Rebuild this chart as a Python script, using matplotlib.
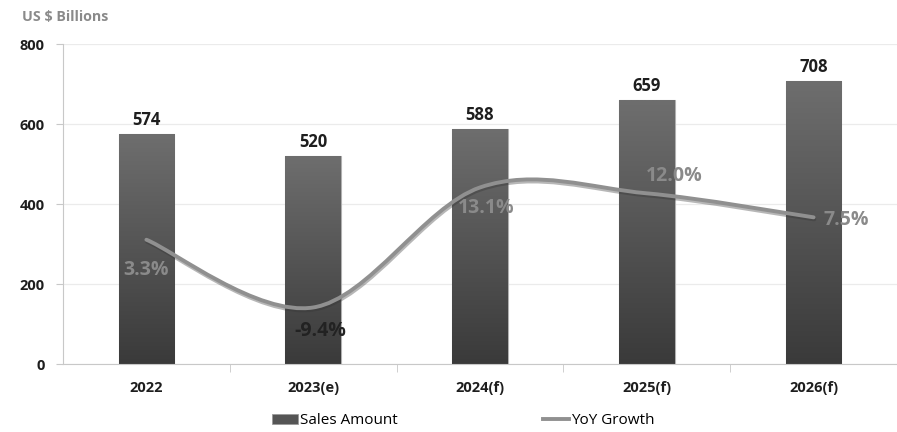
import numpy as np
import matplotlib
matplotlib.use("Agg")
import matplotlib.pyplot as plt
from matplotlib.path import Path
from matplotlib.patches import PathPatch, Patch
from matplotlib.lines import Line2D
import matplotlib.patheffects as pe

plt.rcParams['font.family'] = ['Open Sans', 'DejaVu Sans']

years = ["2022", "2023(e)", "2024(f)", "2025(f)", "2026(f)"]
sales = [574, 520, 588, 659, 708]
growth = [3.3, -9.4, 13.1, 12.0, 7.5]
growth_labels = ["3.3%", "-9.4%", "13.1%", "12.0%", "7.5%"]

W, H = 897, 432
fig = plt.figure(figsize=(W / 100, H / 100), dpi=100)
ax = fig.add_axes([63 / W, 68 / H, 834 / W, 320 / H])

x = np.arange(len(years))
bars = ax.bar(x, sales, width=0.333, color="#555555", edgecolor="#b0b0b0", linewidth=0.8, zorder=2)

# vertical gradient inside each bar
grad = np.linspace(0, 1, 256).reshape(-1, 1)
cmap = matplotlib.colors.LinearSegmentedColormap.from_list("g", ["#3a3a3a", "#6e6e6e"])
for b in bars:
    x0, y0 = b.get_x(), b.get_y()
    im = ax.imshow(grad, cmap=cmap,
                   extent=[x0, x0 + b.get_width(), y0, y0 + b.get_height()],
                   origin="lower", aspect="auto", zorder=2.5)
    im.set_clip_path(b)

for xi, v in zip(x, sales):
    ax.annotate(str(v), (xi, v), xytext=(0, 5), textcoords="offset pixels",
                ha="center", va="bottom", fontsize=12, fontweight="bold", color="#1e1e1e")

ax.set_xlim(-0.5, -0.5 + 834 / 168)
ax.set_ylim(0, 800)
ax.set_yticks([0, 200, 400, 600, 800])
ax.set_xticks(x)
ax.set_xticklabels(years)
ax.set_xticks(np.arange(len(years)) + 0.5, minor=True)
ax.tick_params(axis="x", which="major", length=0, pad=12, labelsize=10.5, labelcolor="#1e1e1e")
ax.tick_params(axis="x", which="minor", length=6, color="#c8c8c8", direction="out")
ax.tick_params(axis="y", length=5, color="#c8c8c8", pad=8, labelsize=10.5, labelcolor="#1e1e1e")
for lab in ax.get_xticklabels() + ax.get_yticklabels():
    lab.set_fontweight("bold")
ax.grid(axis="y", color="#ebebeb", linewidth=0.9, zorder=0)
ax.set_axisbelow(True)
for s in ["top", "right"]:
    ax.spines[s].set_visible(False)
ax.spines["left"].set_color("#c8c8c8")
ax.spines["bottom"].set_color("#c8c8c8")

# secondary axis for growth line
ax2 = ax.twinx()
ax2.set_ylim(-20, 40)
ax2.set_xlim(ax.get_xlim())
ax2.axis("off")

# smooth line through the points (Bezier, Excel style)
pts = np.column_stack([x, growth]).astype(float)
verts = [tuple(pts[0])]
codes = [Path.MOVETO]
n = len(pts)
for i in range(n - 1):
    p_prev = pts[i - 1] if i > 0 else pts[i]
    p_next2 = pts[i + 2] if i + 2 < n else pts[i + 1]
    c1 = pts[i] + (pts[i + 1] - p_prev) / 6
    c2 = pts[i + 1] - (p_next2 - pts[i]) / 6
    verts += [tuple(c1), tuple(c2), tuple(pts[i + 1])]
    codes += [Path.CURVE4] * 3
curve = PathPatch(Path(verts, codes), facecolor="none", edgecolor="#909090", linewidth=2.8,
                  capstyle="round", zorder=3,
                  path_effects=[pe.SimpleLineShadow(offset=(0.5, -1.5), shadow_color="#333333", alpha=0.35),
                                pe.Normal()])
ax2.add_patch(curve)

label_offsets = [(0, -30), (7, -24), (6, -21), (27, 17), (33, -3)]
label_colors = ["#8a8a8a", "#222222", "#8a8a8a", "#8a8a8a", "#8a8a8a"]
for xi, v, t, off, c in zip(x, growth, growth_labels, label_offsets, label_colors):
    ax2.annotate(t, (xi, v), xytext=off, textcoords="offset pixels", ha="center", va="center",
                 fontsize=14, fontweight="bold", color=c, zorder=4)

fig.text(22 / W, 1 - 17 / H, "US $ Billions", fontsize=10.3, fontweight="bold", color="#8a8a8a",
         ha="left", va="center")

handles = [Patch(facecolor="#555555", edgecolor="#9a9a9a", linewidth=0.6),
           Line2D([0], [0], color="#909090", linewidth=2.8)]
fig.legend(handles, ["Sales Amount", "YoY Growth"], loc="center", bbox_to_anchor=(463 / W, 1 - 421 / H),
           ncol=2, frameon=False, fontsize=11, handlelength=1.7, handleheight=0.6, handletextpad=0.15,
           columnspacing=9.5)

fig.savefig("out.png", dpi=100)
